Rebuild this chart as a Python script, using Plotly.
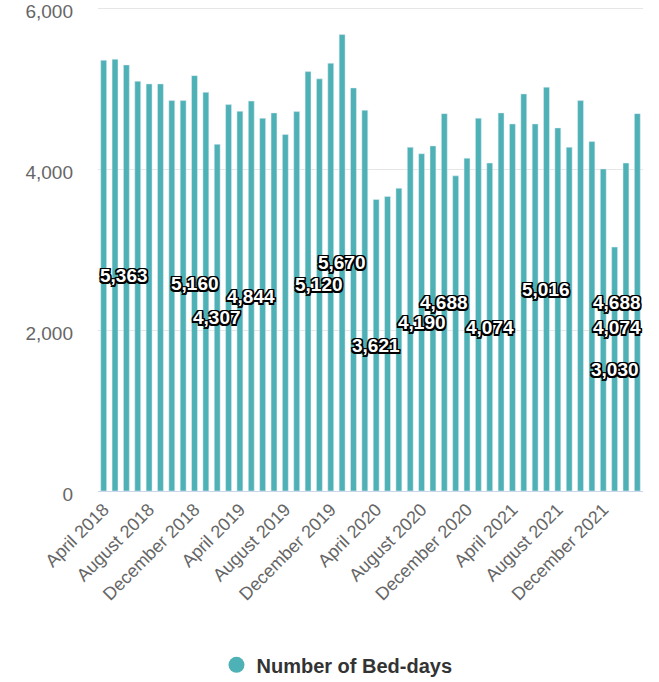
import plotly.graph_objects as go

month_names = ["January", "February", "March", "April", "May", "June", "July",
               "August", "September", "October", "November", "December"]
months = []
for k in range(48):
    m = (3 + k) % 12
    y = 2018 + (3 + k) // 12
    months.append(f"{month_names[m]} {y}")

bed_days = [5351, 5363, 5293, 5090, 5057, 5057, 4850, 4850, 5160, 4953, 4307, 4800,
            4717, 4844, 4630, 4697, 4428, 4713, 5210, 5120, 5314, 5670, 5007, 4730,
            3621, 3658, 3761, 4270, 4190, 4287, 4688, 3915, 4134, 4631, 4074, 4697,
            4560, 4933, 4560, 5016, 4510, 4270, 4850, 4341, 4001, 3030, 4074, 4688]

labeled_months = ["May 2018", "December 2018", "February 2019", "May 2019",
                  "November 2019", "January 2020", "April 2020", "August 2020",
                  "October 2020", "February 2021", "July 2021", "January 2022",
                  "February 2022", "March 2022"]

tick_months = months[::4]

BAR_COLOR = "#4DB1B5"
FONT = "Liberation Sans, Arial, sans-serif"

fig = go.Figure()
fig.add_trace(go.Bar(x=months, y=bed_days, marker_color=BAR_COLOR,
                     showlegend=False, name="Number of Bed-days"))
fig.add_trace(go.Scatter(x=[months[0]], y=[None], mode="markers",
                         marker=dict(symbol="circle", size=20, color=BAR_COLOR),
                         name="Number of Bed-days", showlegend=True))

L, R, T, B = 98, 16, 4, 191
W, H = 659, 682
plot_w = W - L - R
n = len(months)
outline = ("-1.5px -1.5px 0 #000, 1.5px -1.5px 0 #000, -1.5px 1.5px 0 #000, 1.5px 1.5px 0 #000, "
           "0 1.5px 0 #000, 0 -1.5px 0 #000, 1.5px 0 0 #000, -1.5px 0 0 #000")
annotations = []
for mname in labeled_months:
    i = months.index(mname)
    v = bed_days[i]
    bar_x = L + (i + 0.5) * plot_w / n
    max_center = L + plot_w - 26
    min_center = L + 26
    shift = min(0, max_center - bar_x) + max(0, min_center - bar_x)
    annotations.append(dict(
        x=mname, y=v / 2, text=f"{v:,}", showarrow=False, xshift=shift,
        font=dict(family=FONT, size=19, color="white", weight="bold", shadow=outline),
    ))

fig.update_layout(
    width=W, height=H,
    margin=dict(l=L, r=R, t=T, b=B, autoexpand=False),
    plot_bgcolor="white", paper_bgcolor="white",
    bargap=0.48,
    font=dict(family=FONT, color="#666666"),
    annotations=annotations,
    legend=dict(orientation="h", x=0.4385, xanchor="center", y=-0.357, yanchor="middle",
                font=dict(family=FONT, size=20, color="#333333", weight="bold")),
    xaxis=dict(type="category", tickmode="array", tickvals=tick_months, ticktext=tick_months,
               range=[-0.5, n - 0.5],
               tickangle=-45, tickfont=dict(size=18, color="#666666"), automargin=False,
               showgrid=False, showline=True, linecolor="#ccd6eb", ticks=""),
    yaxis=dict(range=[0, 6050], tickvals=[0, 2000, 4000, 6000], tickformat=",",
               gridcolor="#e6e6e6", zeroline=False, showline=False, automargin=False,
               ticklabeloverflow="allow", ticklabelshift=3,
               tickfont=dict(size=19, color="#666666"), ticklabelstandoff=24),
)

fig.write_html("out.html", config={"displayModeBar": False},
               post_script="document.body.style.margin='0';")
